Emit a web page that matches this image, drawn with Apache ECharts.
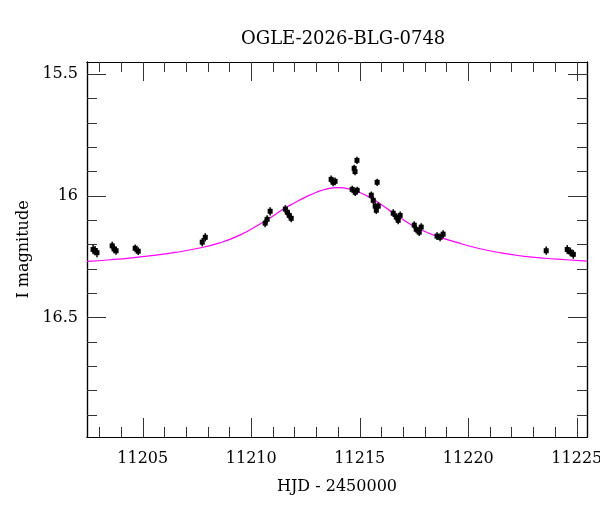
<!DOCTYPE html>
<head>
    <meta charset="utf-8"/>
    <style>
        html, body {
            height: 100%;
            margin: 0;
        }
        body {
            background-color: #fff;
        }
    </style>
    <script src="https://cdn.jsdelivr.net/npm/echarts@6/dist/echarts.min.js"></script>
</head>
<body>
<div id="main" style="width: 600px; height: 512px;"></div>
<script type="text/javascript">
 // observations (HJD - 2450000, I mag, error)
 var obsDays = [11202.71, 11202.80, 11202.89, 11203.59, 11203.68, 11203.77, 11204.65, 11204.79,
                11207.74, 11207.88, 11210.64, 11210.73, 11210.87, 11211.57, 11211.66, 11211.75,
                11211.84, 11213.68, 11213.77, 11213.86, 11214.65, 11214.74, 11214.78, 11214.79,
                11214.87, 11214.88, 11215.53, 11215.62, 11215.71, 11215.76, 11215.80, 11215.85,
                11216.54, 11216.68, 11216.77, 11216.86, 11217.51, 11217.60, 11217.74, 11217.83,
                11218.56, 11218.70, 11218.84, 11223.59, 11224.56, 11224.70, 11224.84];
 var obsMags = [16.220, 16.225, 16.233, 16.205, 16.218, 16.225, 16.215, 16.227,
                16.190, 16.170, 16.112, 16.096, 16.063, 16.054, 16.067, 16.080,
                16.092, 15.932, 15.944, 15.940, 15.973, 15.887, 15.900, 15.985,
                15.854, 15.977, 15.997, 16.018, 16.042, 16.059, 15.944, 16.042,
                16.071, 16.087, 16.100, 16.080, 16.120, 16.137, 16.149, 16.128,
                16.165, 16.170, 16.157, 16.225, 16.220, 16.230, 16.240];
 var obsErrs = [0.019, 0.019, 0.019, 0.017, 0.017, 0.017, 0.016, 0.016,
                0.017, 0.017, 0.017, 0.017, 0.017, 0.016, 0.016, 0.016,
                0.016, 0.016, 0.016, 0.016, 0.015, 0.015, 0.015, 0.015,
                0.015, 0.015, 0.015, 0.015, 0.015, 0.015, 0.015, 0.015,
                0.016, 0.016, 0.016, 0.016, 0.016, 0.016, 0.016, 0.016,
                0.016, 0.016, 0.016, 0.017, 0.018, 0.018, 0.018];
 // model curve
 var modelDays = [11202.43, 11203.5, 11204.5, 11205.5, 11206.5, 11207.5, 11208.5, 11209.5,
                  11210.5, 11211.0, 11211.5, 11212.0, 11212.5, 11213.0, 11213.5, 11214.0,
                  11214.5, 11215.0, 11215.5, 11216.0, 11216.5, 11217.0, 11217.5, 11218.0,
                  11218.5, 11219.5, 11220.5, 11221.5, 11222.5, 11223.5, 11224.5, 11225.47];
 var modelMags = [16.269, 16.262, 16.254, 16.244, 16.232, 16.216, 16.194, 16.160,
                  16.110, 16.082, 16.053, 16.028, 16.005, 15.985, 15.971, 15.966,
                  15.971, 15.986, 16.008, 16.036, 16.068, 16.098, 16.125, 16.146,
                  16.164, 16.192, 16.216, 16.234, 16.247, 16.256, 16.262, 16.268];
 var xMajor = [11205, 11210, 11215, 11220, 11225];
 var xMinor = [11203, 11204, 11205, 11206, 11207, 11208, 11209, 11210, 11211, 11212, 11213, 11214,
               11215, 11216, 11217, 11218, 11219, 11220, 11221, 11222, 11223, 11224, 11225];
 var yMajor = [15.5, 16, 16.5];
 var yMinor = [15.5, 15.6, 15.7, 15.8, 15.9, 16, 16.1, 16.2, 16.3, 16.4, 16.5, 16.6, 16.7, 16.8, 16.9];

 var X_MIN = 11202.43, X_MAX = 11225.47;
 var Y_MIN = 15.45, Y_MAX = 16.99;
 var FONT = 'DejaVu Serif';

 function xAx(pos, ticks, len, labels){
     return {
         type: 'value', position: pos, min: X_MIN, max: X_MAX,
         name: labels ? 'HJD - 2450000' : '',
         nameLocation: 'middle', nameGap: 42,
         nameTextStyle: {fontFamily: FONT, fontSize: 16, color: '#000'},
         axisLine: {show: true, onZero: false, lineStyle: {color: '#000', width: 1.2}},
         axisTick: {show: true, inside: true, length: len, customValues: ticks,
                    lineStyle: {color: '#333', width: 1}},
         axisLabel: {show: labels, customValues: ticks, margin: 14,
                     formatter: function(v){ return String(v); },
                     fontFamily: FONT, fontSize: 16, color: '#000'},
         splitLine: {show: false}
     };
 }
 function yAx(pos, ticks, len, labels){
     return {
         type: 'value', position: pos, min: Y_MIN, max: Y_MAX, inverse: true,
         name: labels ? 'I magnitude' : '',
         nameLocation: 'middle', nameGap: 54,
         nameTextStyle: {fontFamily: FONT, fontSize: 16, color: '#000'},
         axisLine: {show: true, onZero: false, lineStyle: {color: '#000', width: 1.2}},
         axisTick: {show: true, inside: true, length: len, customValues: ticks,
                    lineStyle: {color: '#333', width: 1}},
         axisLabel: {show: labels, customValues: ticks, margin: 9,
                     fontFamily: FONT, fontSize: 16, color: '#000'},
         splitLine: {show: false}
     };
 }

 var obsData = obsDays.map(function(d, i){ return [d, obsMags[i], obsErrs[i]]; });
 var modelData = modelDays.map(function(d, i){ return [d, modelMags[i]]; });

 var options = {
     animation: false,
     title: {
         text: 'OGLE-2026-BLG-0748', left: 236, top: 25,
         textStyle: {fontFamily: FONT, fontSize: 18, fontWeight: 'normal', color: '#000'}
     },
     grid: {left: 87, right: 13, top: 62, bottom: 75, outerBoundsMode: 'none'},
     xAxis: [
         xAx('bottom', xMajor, 19, true),
         xAx('bottom', xMinor, 10, false),
         xAx('top', xMajor, 19, false),
         xAx('top', xMinor, 10, false)
     ],
     yAxis: [
         yAx('left', yMajor, 19, true),
         yAx('left', yMinor, 10, false),
         yAx('right', yMajor, 19, false),
         yAx('right', yMinor, 10, false)
     ],
     series: [
         {
             type: 'line', data: modelData, smooth: true, showSymbol: false,
             lineStyle: {color: '#ff00ff', width: 1.2}, z: 2
         },
         {
             type: 'custom', data: obsData, z: 3,
             renderItem: function(params, api){
                 var x = api.value(0), m = api.value(1), e = api.value(2);
                 var p = api.coord([x, m]);
                 var top = api.coord([x, m - e]);
                 var bot = api.coord([x, m + e]);
                 return {
                     type: 'group',
                     children: [
                         {type: 'line', shape: {x1: p[0], y1: top[1], x2: p[0], y2: bot[1]},
                          style: {stroke: '#000', lineWidth: 1.5}},
                         {type: 'rect', shape: {x: p[0] - 2.5, y: p[1] - 2.5, width: 5, height: 5},
                          style: {fill: '#000'}}
                     ]
                 };
             }
         }
     ]
 };
 var myChart = echarts.init(document.getElementById('main'));
 myChart.setOption(options);
</script>
</body>
